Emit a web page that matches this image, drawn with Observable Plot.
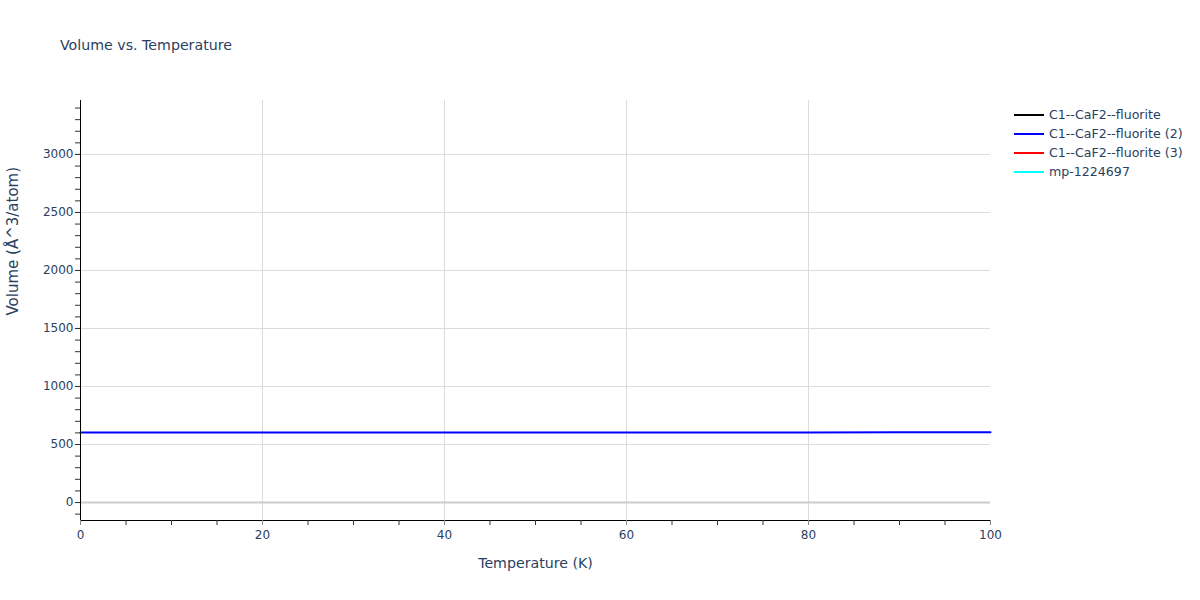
<!DOCTYPE html>
<html>
<head>
<meta charset="utf-8">
<script src="https://cdn.jsdelivr.net/npm/d3@7"></script>
<script src="https://cdn.jsdelivr.net/npm/@observablehq/plot@0.6"></script>
<style>
  body { margin: 0; background: #fff; font-family: "DejaVu Sans", sans-serif; }
  #wrap { position: relative; width: 1200px; height: 600px; }
  #title { position: absolute; left: 60px; top: 37px; font-size: 14.2px; color: #2a3f5f; }
  #legend { position: absolute; left: 1014px; top: 105px; font-size: 12.6px; color: #2a3f5f; }
  .li { display: flex; align-items: center; height: 19px; }
  .sw { width: 30px; height: 2px; margin-right: 5px; }
</style>
</head>
<body>
<div id="wrap">
  <div id="chart"></div>
  <div id="title">Volume vs. Temperature</div>
  <div id="legend"></div>
</div>
<script>
const seriesNames = ["C1--CaF2--fluorite", "C1--CaF2--fluorite (2)", "C1--CaF2--fluorite (3)", "mp-1224697"];
const seriesColors = ["#000000", "#0000ff", "#ff0000", "#00ffff"];
const temperatures = [0, 10, 20, 30, 40, 50, 60, 70, 80, 90, 100];
const volumeSeries2 = [603, 603.1, 603.2, 603.4, 603.6, 603.8, 604.0, 604.2, 604.4, 604.6, 604.8];
const yTicks = [0, 500, 1000, 1500, 2000, 2500, 3000];
const xTicks = [0, 20, 40, 60, 80, 100];

const data = temperatures.map((t, i) => ({T: t, V: volumeSeries2[i], s: seriesNames[1]}));

const yMin = -155, yMax = 3465;
const chart = Plot.plot({
  width: 1200,
  height: 600,
  marginLeft: 80,
  marginRight: 210,
  marginTop: 100,
  marginBottom: 80,
  style: {fontFamily: "DejaVu Sans, sans-serif", fontSize: "12px", background: "#fff"},
  x: {domain: [0, 100]},
  y: {domain: [yMin, yMax]},
  color: {domain: seriesNames, range: seriesColors},
  marks: [
    Plot.ruleX(xTicks.filter(d => d > 0 && d < 100), {stroke: "#dcdcdc", strokeWidth: 1}),
    Plot.ruleY(yTicks.filter(d => d > 0), {stroke: "#dcdcdc", strokeWidth: 1}),
    Plot.ruleY([0], {stroke: "#cccccc", strokeWidth: 2}),
    Plot.line(data, {x: "T", y: "V", stroke: "s", strokeWidth: 2}),
    Plot.ruleX([0], {stroke: "#000", strokeWidth: 1}),
    Plot.ruleY([yMin], {stroke: "#000", strokeWidth: 1}),
    Plot.axisY(d3.range(-100, 3500, 100), {tickSize: 5, tickFormat: () => "", stroke: "#333", label: null}),
    Plot.axisY(yTicks, {tickSize: 5, tickPadding: 2, tickFormat: d => String(d), stroke: "#333", fill: "#2a3f5f", fontSize: 12, label: null}),
    Plot.axisX(d3.range(0, 101, 5), {tickSize: 5, tickFormat: () => "", stroke: "#333", label: null}),
    Plot.axisX(xTicks, {tickSize: 5, tickPadding: 5, tickFormat: d => String(d), stroke: "#888", fill: "#2a3f5f", fontSize: 12, label: null}),
    Plot.text(["Temperature (K)"], {frameAnchor: "bottom", dy: 47, fill: "#2a3f5f", fontSize: 14.2}),
    Plot.text(["Volume (Å^3/atom)"], {frameAnchor: "left", dx: -67, dy: 5, rotate: -90, fill: "#2a3f5f", fontSize: 15}),
  ]
});
document.getElementById("chart").appendChild(chart);

const legend = document.getElementById("legend");
seriesNames.forEach((n, i) => {
  const row = document.createElement("div");
  row.className = "li";
  const sw = document.createElement("div");
  sw.className = "sw";
  sw.style.background = seriesColors[i];
  const tx = document.createElement("span");
  tx.textContent = n;
  row.appendChild(sw);
  row.appendChild(tx);
  legend.appendChild(row);
});
</script>
</body>
</html>
